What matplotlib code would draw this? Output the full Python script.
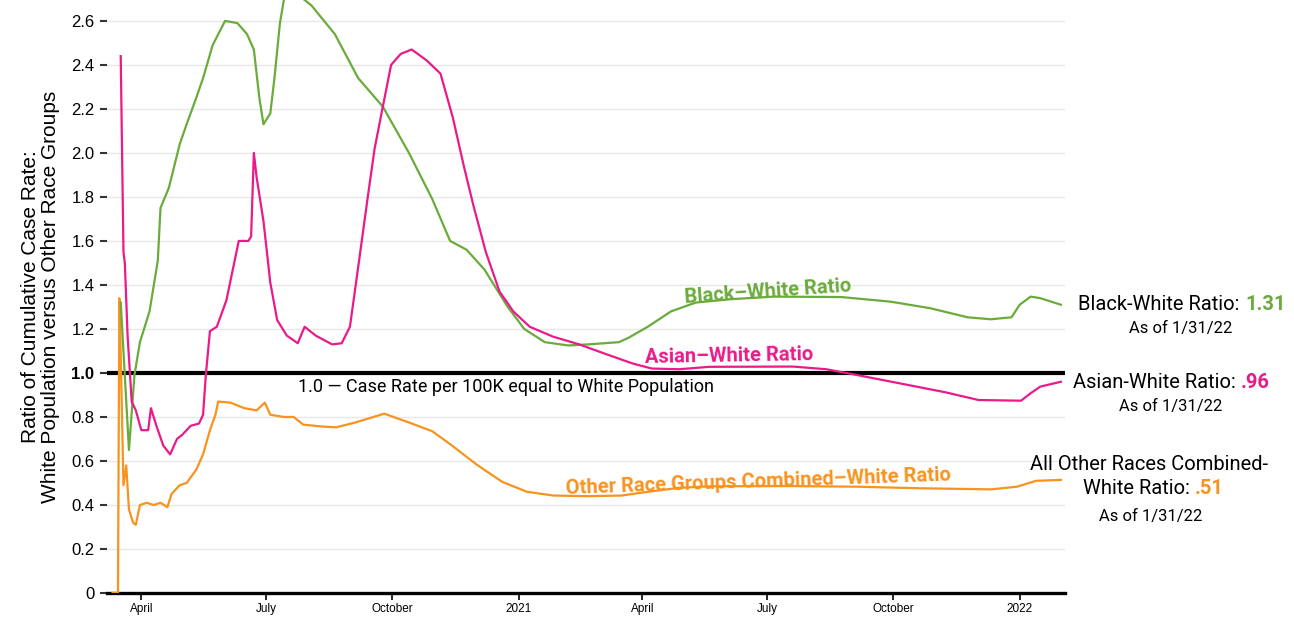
import matplotlib
matplotlib.use('Agg')
import matplotlib.pyplot as plt
import numpy as np
import pandas as pd

# Black-White ratio
black_dates = ['2020-03-17', '2020-03-23', '2020-03-27', '2020-03-31', '2020-04-07', '2020-04-13',
               '2020-04-15', '2020-04-21', '2020-04-29', '2020-05-04', '2020-05-11', '2020-05-16',
               '2020-05-23', '2020-06-01', '2020-06-10', '2020-06-17', '2020-06-22', '2020-06-26',
               '2020-06-29', '2020-07-04', '2020-07-07', '2020-07-11', '2020-07-14', '2020-07-19',
               '2020-07-26', '2020-08-03', '2020-08-20', '2020-09-06', '2020-09-24', '2020-10-13',
               '2020-10-30', '2020-11-12', '2020-11-24', '2020-12-07', '2020-12-24', '2021-01-05',
               '2021-01-20', '2021-02-06', '2021-02-21', '2021-03-15', '2021-03-22', '2021-04-05',
               '2021-04-22', '2021-05-10', '2021-06-04', '2021-07-06', '2021-08-24', '2021-09-29',
               '2021-10-28', '2021-11-24', '2021-12-11', '2021-12-26', '2022-01-01', '2022-01-09',
               '2022-01-16', '2022-01-31']
black_vals = [1.32, 0.65, 0.99, 1.14, 1.28, 1.51,
              1.75, 1.84, 2.04, 2.13, 2.25, 2.34,
              2.49, 2.60, 2.59, 2.54, 2.47, 2.25,
              2.13, 2.18, 2.34, 2.59, 2.70, 2.76,
              2.71, 2.67, 2.54, 2.34, 2.21, 2.00,
              1.79, 1.60, 1.56, 1.47, 1.30, 1.20,
              1.14, 1.125, 1.13, 1.14, 1.16, 1.21,
              1.28, 1.32, 1.335, 1.347, 1.345, 1.324,
              1.294, 1.253, 1.244, 1.253, 1.31, 1.347,
              1.34, 1.31]

# Asian-White ratio
asian_dates = ['2020-03-17', '2020-03-19', '2020-03-20', '2020-03-22', '2020-03-25', '2020-03-28',
               '2020-04-01', '2020-04-06', '2020-04-08', '2020-04-12', '2020-04-17', '2020-04-22',
               '2020-04-27', '2020-05-01', '2020-05-07', '2020-05-13', '2020-05-16', '2020-05-18',
               '2020-05-21', '2020-05-26', '2020-06-02', '2020-06-07', '2020-06-11', '2020-06-18',
               '2020-06-20', '2020-06-22', '2020-06-24', '2020-06-29', '2020-07-04', '2020-07-09',
               '2020-07-16', '2020-07-24', '2020-07-29', '2020-08-06', '2020-08-18', '2020-08-25',
               '2020-08-31', '2020-09-06', '2020-09-13', '2020-09-18', '2020-09-23', '2020-09-30',
               '2020-10-07', '2020-10-15', '2020-10-26', '2020-11-05', '2020-11-14', '2020-11-22',
               '2020-11-29', '2020-12-08', '2020-12-18', '2020-12-28', '2021-01-09', '2021-01-26',
               '2021-02-14', '2021-03-05', '2021-03-25', '2021-04-08', '2021-04-28', '2021-05-20',
               '2021-07-20', '2021-08-13', '2021-09-05', '2021-10-12', '2021-11-08', '2021-12-02',
               '2022-01-02', '2022-01-09', '2022-01-16', '2022-01-31']
asian_vals = [2.44, 1.55, 1.50, 1.17, 0.87, 0.83,
              0.74, 0.74, 0.84, 0.76, 0.67, 0.63,
              0.70, 0.72, 0.76, 0.77, 0.81, 0.99,
              1.19, 1.21, 1.33, 1.48, 1.60, 1.60,
              1.62, 2.00, 1.89, 1.69, 1.41, 1.24,
              1.17, 1.135, 1.21, 1.17, 1.13, 1.135,
              1.21, 1.48, 1.80, 2.02, 2.18, 2.40,
              2.45, 2.47, 2.42, 2.36, 2.16, 1.94,
              1.76, 1.55, 1.37, 1.28, 1.21, 1.165,
              1.13, 1.087, 1.043, 1.02, 1.017, 1.028,
              1.029, 1.017, 0.99, 0.945, 0.912, 0.877,
              0.874, 0.908, 0.938, 0.96]

# Other race groups combined - White ratio
other_dates = ['2020-03-11', '2020-03-15', '2020-03-16', '2020-03-17', '2020-03-19', '2020-03-21',
               '2020-03-23', '2020-03-26', '2020-03-28', '2020-03-31', '2020-04-05', '2020-04-10',
               '2020-04-15', '2020-04-20', '2020-04-23', '2020-04-29', '2020-05-04', '2020-05-11',
               '2020-05-16', '2020-05-21', '2020-05-25', '2020-05-27', '2020-06-05', '2020-06-15',
               '2020-06-24', '2020-06-30', '2020-07-04', '2020-07-14', '2020-07-21', '2020-07-28',
               '2020-08-10', '2020-08-21', '2020-09-04', '2020-09-25', '2020-10-13', '2020-10-30',
               '2020-11-13', '2020-12-01', '2020-12-20', '2021-01-07', '2021-01-26', '2021-02-21',
               '2021-03-17', '2021-04-05', '2021-04-28', '2021-05-20', '2021-07-19', '2021-09-05',
               '2021-10-20', '2021-12-11', '2021-12-30', '2022-01-13', '2022-01-31']
other_vals = [0.0, 0.0, 1.34, 1.08, 0.49, 0.58,
              0.38, 0.32, 0.31, 0.40, 0.41, 0.40,
              0.41, 0.39, 0.45, 0.49, 0.50, 0.56,
              0.63, 0.74, 0.81, 0.87, 0.865, 0.84,
              0.83, 0.865, 0.81, 0.80, 0.80, 0.765,
              0.757, 0.753, 0.775, 0.815, 0.775, 0.735,
              0.672, 0.585, 0.505, 0.46, 0.443, 0.44,
              0.443, 0.46, 0.478, 0.485, 0.486, 0.483,
              0.476, 0.471, 0.483, 0.51, 0.514]

tick_dates = ['2020-04-01', '2020-07-01', '2020-10-01', '2021-01-01',
              '2021-04-01', '2021-07-01', '2021-10-01', '2022-01-01']
tick_labels = ['April', 'July', 'October', '2021', 'April', 'July', 'October', '2022']
y_ticks = [0, 0.2, 0.4, 0.6, 0.8, 1.0, 1.2, 1.4, 1.6, 1.8, 2.0, 2.2, 2.4, 2.6]
y_labels = ['0', '0.2', '0.4', '0.6', '0.8', '1.0', '1.2', '1.4', '1.6', '1.8',
            '2.0', '2.2', '2.4', '2.6']

GREEN = '#6aab3c'
PINK = '#ea1a8a'
ORANGE = '#f7931e'

W, H = 1294, 620
fig = plt.figure(figsize=(W / 100, H / 100), dpi=100)
ax = fig.add_axes([107 / W, 1 - 593 / H, (1065 - 107) / W, 593 / H])

ax.set_ylim(0, 2.695)
ax.set_xlim(pd.Timestamp('2020-03-07'), pd.Timestamp('2022-02-03'))

for yv in y_ticks[1:]:
    ax.axhline(yv, color='#e8e8e8', lw=1, zorder=0)

ax.plot(pd.to_datetime(other_dates), other_vals, color=ORANGE, lw=1.6, zorder=3)
ax.plot(pd.to_datetime(black_dates), black_vals, color=GREEN, lw=1.6, zorder=3)
ax.plot(pd.to_datetime(asian_dates), asian_vals, color=PINK, lw=1.6, zorder=3)
ax.axhline(1.0, color='black', lw=3, zorder=2)

for s in ['left', 'right', 'top']:
    ax.spines[s].set_visible(False)
ax.spines['bottom'].set_linewidth(2.4)

ax.set_yticks(y_ticks)
ax.set_yticklabels(y_labels, fontsize=12, family='Liberation Sans')
ax.get_yticklabels()[5].set_fontweight('bold')
ax.tick_params(axis='y', length=5, width=1.5, pad=4, color='#333333')
ax.set_xticks(pd.to_datetime(tick_dates))
ax.set_xticklabels(tick_labels, fontsize=8.5, family='Liberation Sans')
ax.tick_params(axis='x', length=5, width=1.2, pad=2)

ax.set_ylabel('Ratio of Cumulative Case Rate:\nWhite Population versus Other Race Groups',
              fontsize=15, family='Liberation Sans', labelpad=8, linespacing=1.1)

fig.text(298 / W, 1 - 387 / H, '1.0 \u2014 Case Rate per 100K equal to White Population',
         fontsize=13, family='Roboto', va='center', ha='left')

# inline series labels
fig.text(768 / W, 1 - 292 / H, 'Black\u2013White Ratio', color=GREEN, fontsize=14.5,
         family='Roboto', weight='bold', ha='center', va='center', rotation=4)
fig.text(729 / W, 1 - 356 / H, 'Asian\u2013White Ratio', color=PINK, fontsize=14.5,
         family='Roboto', weight='bold', ha='center', va='center', rotation=1)
fig.text(758 / W, 1 - 482 / H, 'Other Race Groups Combined\u2013White Ratio', color=ORANGE,
         fontsize=14.5, family='Roboto', weight='bold', ha='center', va='center', rotation=2)

# right-hand value labels
fs_r = 14.5
fig.text(1239 / W, 1 - 305 / H, 'Black-White Ratio:', fontsize=fs_r, family='Roboto',
         ha='right', va='center')
fig.text(1245 / W, 1 - 305 / H, '1.31', fontsize=fs_r, family='Roboto', weight='bold',
         color=GREEN, ha='left', va='center')
fig.text(1181 / W, 1 - 328 / H, 'As of 1/31/22', fontsize=12, family='Roboto',
         ha='center', va='center')

fig.text(1236 / W, 1 - 383 / H, 'Asian-White Ratio:', fontsize=fs_r, family='Roboto',
         ha='right', va='center')
fig.text(1241 / W, 1 - 383 / H, '.96', fontsize=fs_r, family='Roboto', weight='bold',
         color=PINK, ha='left', va='center')
fig.text(1171 / W, 1 - 406 / H, 'As of 1/31/22', fontsize=12, family='Roboto',
         ha='center', va='center')

fig.text(1149 / W, 1 - 464 / H, 'All Other Races Combined-', fontsize=fs_r, family='Roboto',
         ha='center', va='center')
fig.text(1190 / W, 1 - 489 / H, 'White Ratio:', fontsize=fs_r, family='Roboto',
         ha='right', va='center')
fig.text(1195 / W, 1 - 489 / H, '.51', fontsize=fs_r, family='Roboto', weight='bold',
         color=ORANGE, ha='left', va='center')
fig.text(1151 / W, 1 - 517 / H, 'As of 1/31/22', fontsize=12, family='Roboto',
         ha='center', va='center')

fig.savefig('out.png', dpi=100)
